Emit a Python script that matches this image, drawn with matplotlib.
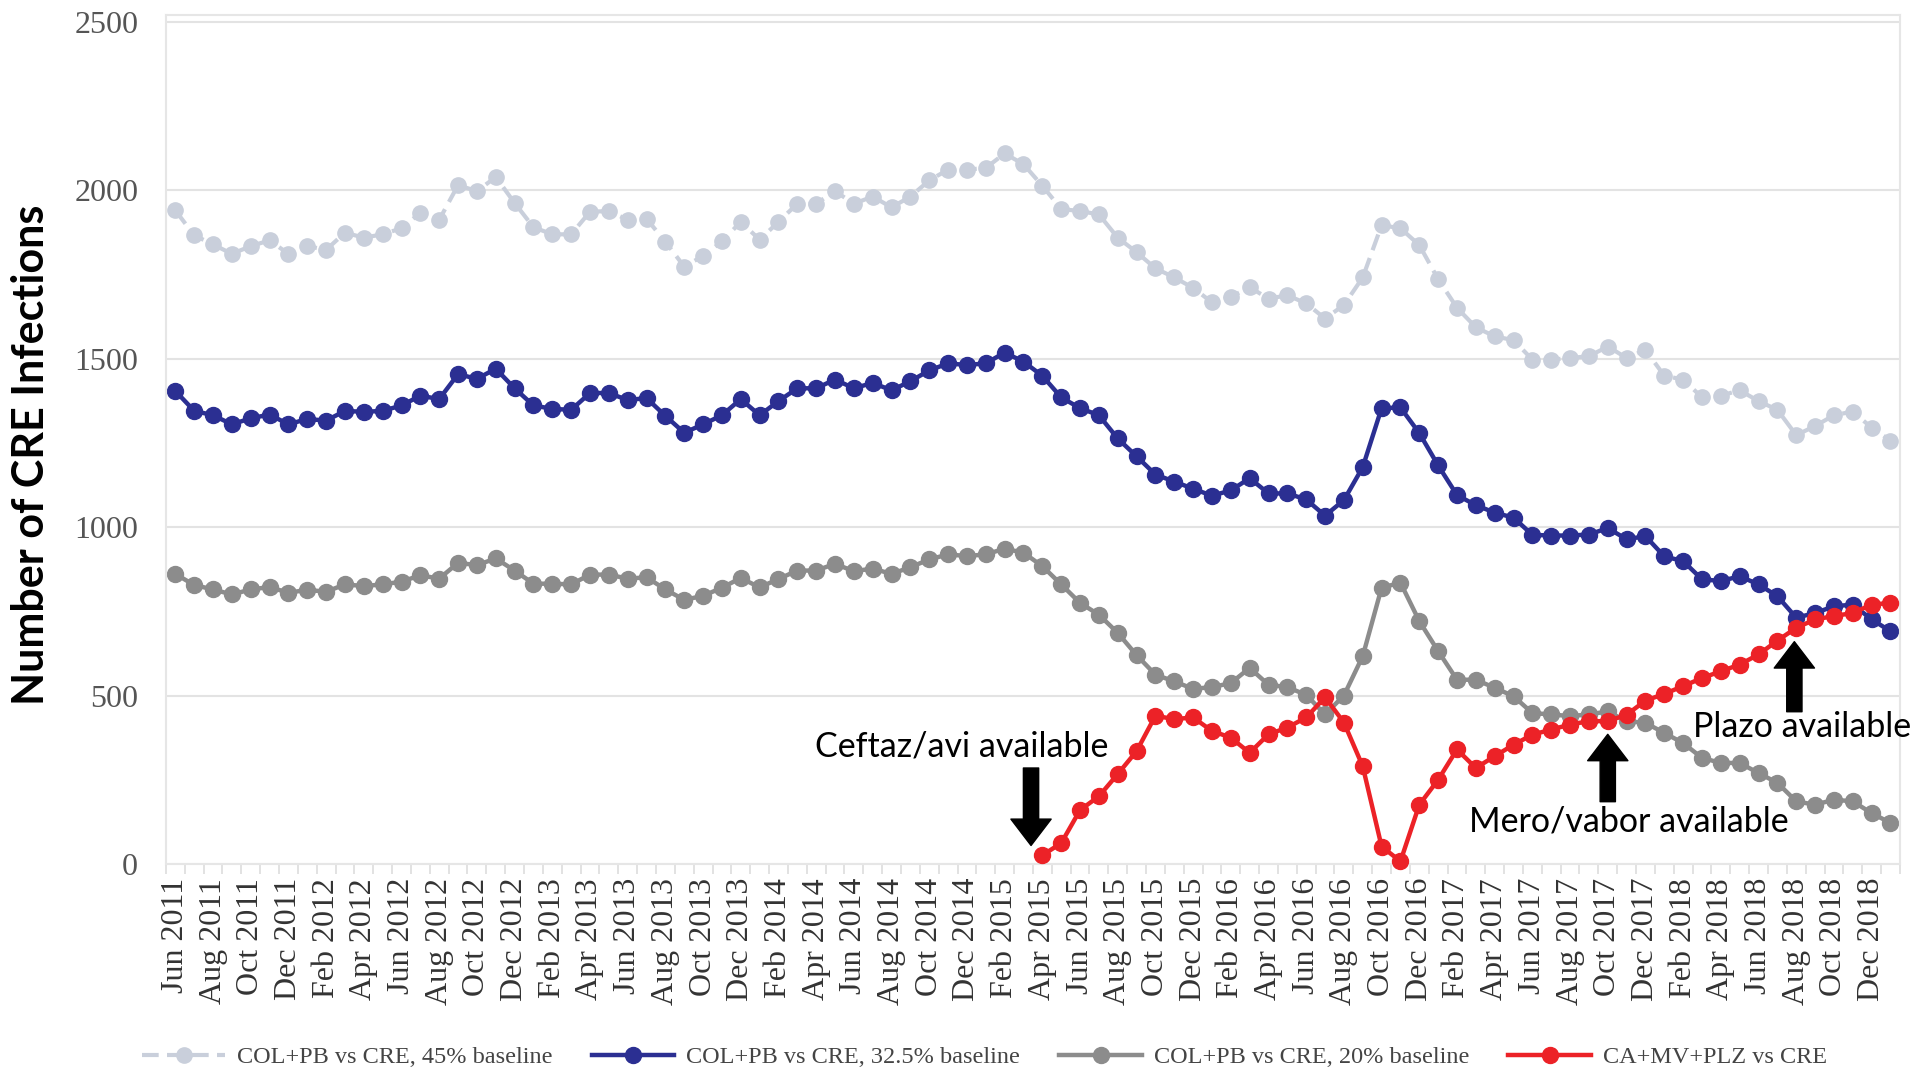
import matplotlib.pyplot as plt
import numpy as np
import pandas as pd

# monthly categories Jun 2011 .. Jan 2019
months = pd.date_range('2011-06-01', '2019-01-01', freq='MS')
x = np.arange(len(months))
tick_pos = x[::2]
tick_labels = [m.strftime('%b %Y') for m in months[::2]]

col_pb_45 = [1940, 1866, 1839, 1811, 1834, 1851, 1811, 1834, 1823, 1874,
             1859, 1869, 1887, 1933, 1912, 2015, 1997, 2039, 1962, 1890,
             1869, 1869, 1936, 1938, 1912, 1915, 1847, 1773, 1805, 1848,
             1906, 1853, 1906, 1960, 1960, 1997, 1960, 1981, 1949, 1981,
             2029, 2061, 2061, 2066, 2109, 2077, 2013, 1944, 1938, 1928,
             1859, 1816, 1768, 1741, 1710, 1667, 1683, 1712, 1678, 1688,
             1664, 1619, 1659, 1741, 1896, 1887, 1837, 1736, 1651, 1593,
             1566, 1555, 1497, 1497, 1502, 1507, 1536, 1502, 1526, 1449,
             1438, 1385, 1390, 1406, 1374, 1348, 1273, 1300, 1332, 1343,
             1295, 1257]

col_pb_325 = [1404, 1345, 1332, 1305, 1323, 1334, 1305, 1321, 1316, 1345,
              1342, 1345, 1361, 1390, 1380, 1454, 1440, 1470, 1412, 1361,
              1351, 1348, 1398, 1398, 1377, 1383, 1330, 1280, 1305, 1332,
              1380, 1332, 1374, 1412, 1412, 1438, 1412, 1428, 1406, 1433,
              1465, 1486, 1481, 1486, 1518, 1491, 1449, 1385, 1353, 1332,
              1263, 1210, 1156, 1135, 1114, 1093, 1109, 1145, 1100, 1100,
              1082, 1034, 1080, 1178, 1353, 1355, 1279, 1183, 1095, 1065,
              1043, 1028, 977, 975, 975, 978, 997, 964, 973, 913,
              899, 845, 840, 854, 830, 795, 731, 745, 765, 770,
              726, 691]

col_pb_20 = [861, 828, 815, 800, 815, 822, 805, 814, 808, 830,
             825, 830, 838, 857, 847, 894, 887, 907, 871, 832,
             832, 830, 859, 859, 847, 851, 815, 784, 796, 820,
             849, 821, 846, 871, 871, 891, 869, 877, 861, 881,
             904, 919, 914, 919, 936, 924, 884, 830, 775, 740,
             686, 620, 562, 542, 520, 525, 537, 582, 532, 525,
             502, 444, 500, 617, 820, 835, 721, 632, 547, 547,
             523, 498, 448, 444, 439, 444, 453, 424, 419, 389,
             359, 315, 300, 300, 270, 241, 186, 176, 191, 186,
             151, 122]

# CA+MV+PLZ starts Apr 2015
red_start = 46
ca_mv_plz = [26, 62, 160, 201, 267, 335, 440, 430, 435, 395,
             375, 330, 385, 405, 435, 495, 420, 290, 52, 8,
             176, 250, 340, 285, 320, 354, 384, 399, 414, 424,
             424, 443, 485, 505, 528, 552, 572, 592, 622, 663,
             701, 726, 736, 745, 770, 775]

serif = 'Liberation Serif'

fig = plt.figure(figsize=(19.16, 10.70), dpi=100)
ax = fig.add_axes([0.0866, 0.1925, 0.905, 0.7935])

ax.plot(x, col_pb_45, color='#c9cfdb', lw=3, ls=(0, (4, 2)), marker='o', ms=11,
        label='COL+PB vs CRE, 45% baseline')
ax.plot(x, col_pb_325, color='#2b2f92', lw=3.2, marker='o', ms=11.5,
        label='COL+PB vs CRE, 32.5% baseline')
ax.plot(x, col_pb_20, color='#8c8c8c', lw=3.2, marker='o', ms=11.5,
        label='COL+PB vs CRE, 20% baseline')
ax.plot(x[red_start:], ca_mv_plz, color='#ec2227', lw=3.2, marker='o', ms=11.5,
        label='CA+MV+PLZ vs CRE', clip_on=False, zorder=5)

ax.set_xlim(-0.5, 91.5)
ax.set_ylim(0, 2520)
ax.set_yticks([0, 500, 1000, 1500, 2000, 2500])
ax.grid(axis='y', color='#e3e3e3', lw=1.5)
ax.set_axisbelow(True)
for s in ax.spines.values():
    s.set_color('#e6e6e6')
    s.set_linewidth(1.5)

ax.set_xticks(tick_pos)
ax.set_xticklabels(tick_labels, rotation=90, fontfamily=serif, fontsize=23, color='#333333')
ax.set_xticks(np.arange(-0.5, 92, 1), minor=True)
ax.tick_params(axis='x', which='major', length=0, pad=10)
ax.tick_params(axis='x', which='minor', length=7, color='#dddddd', width=1.2)
ax.tick_params(axis='y', length=0, pad=20, labelsize=23, labelcolor='#555555')
for t in ax.get_yticklabels():
    t.set_fontfamily(serif)

fig.text(0.016, 0.575, 'Number of CRE Infections', rotation=90, ha='center', va='center',
         fontsize=31, fontweight='bold', fontfamily='Lato')

# availability annotations
arrow = dict(facecolor='black', edgecolor='black', width=11, headwidth=29, headlength=19, shrink=0)
ax.annotate('', xy=(45.4, 55), xytext=(45.4, 285), arrowprops=arrow)
ax.annotate('', xy=(76.0, 385), xytext=(76.0, 185), arrowprops=arrow)
ax.annotate('', xy=(85.9, 660), xytext=(85.9, 452), arrowprops=arrow)
ax.text(41.7, 350, 'Ceftaz/avi available', ha='center', va='center', fontsize=24.5, fontfamily='Lato')
ax.text(77.1, 125, 'Mero/vabor available', ha='center', va='center', fontsize=24.5, fontfamily='Lato')
ax.text(86.3, 408, 'Plazo available', ha='center', va='center', fontsize=24.5, fontfamily='Lato')

fig.legend(loc='center', bbox_to_anchor=(0.514, 0.012), ncol=4, frameon=False,
           prop={'family': serif, 'size': 17.5}, labelcolor='#444444',
           handlelength=3.4, columnspacing=1.6, handletextpad=0.5)

fig.savefig('out.png', dpi=100)
